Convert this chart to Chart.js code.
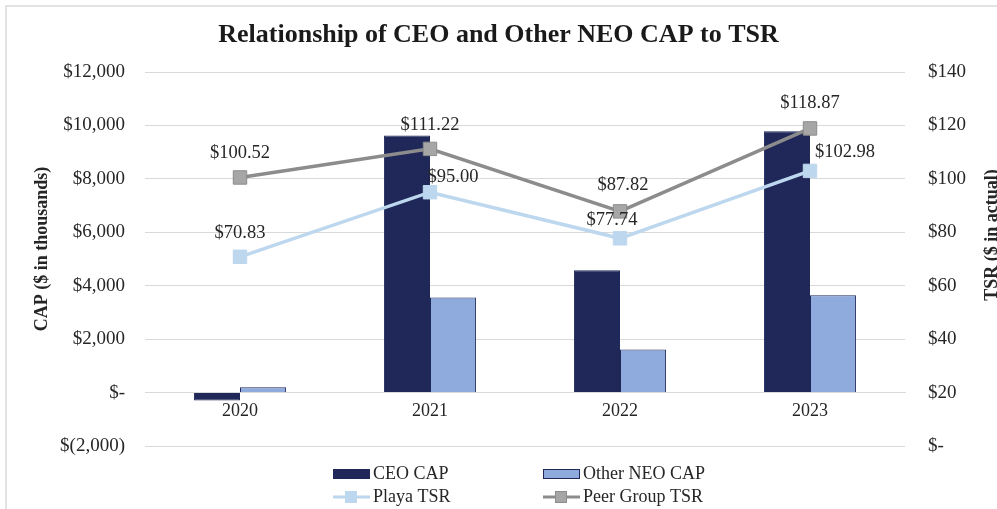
<!DOCTYPE html>
<html>
<head>
<meta charset="utf-8">
<script src="https://cdn.jsdelivr.net/npm/chart.js@4.4.1/dist/chart.umd.min.js"></script>
<style>
  html, body { margin: 0; padding: 0; background: #fff; }
  #wrap { position: relative; width: 997px; height: 509px; overflow: hidden; }
  #frame { position: absolute; left: 5px; top: 5px; width: 1100px; height: 600px;
           border-left: 2px solid #e3e3e3; border-top: 2px solid #e3e3e3; }
  canvas { position: absolute; left: 0; top: 0; }
</style>
</head>
<body>
<div id="wrap">
  <div id="frame"></div>
  <canvas id="chart" width="997" height="509"></canvas>
</div>
<script>
const years = ['2020', '2021', '2022', '2023'];
const ceoCap = [-300, 9620, 4580, 9780];
const otherNeoCap = [200, 3560, 1610, 3640];
const playaTsr = [70.83, 95.00, 77.74, 102.98];
const peerTsr = [100.52, 111.22, 87.82, 118.87];

const capTicks = [-2000, 0, 2000, 4000, 6000, 8000, 10000, 12000];
const tsrTicks = [0, 20, 40, 60, 80, 100, 120, 140];

// label nudges (dx, dy) relative to each point, like the hand placed Excel labels
const playaLabelPos = [[0, -24], [23, -15], [-8, -18], [35, -19]];
const peerLabelPos = [[0, -24], [0, -24], [3, -26], [0, -25]];

const SERIF = '"Liberation Serif", "Times New Roman", serif';
const NAVY = '#1f2859';
const LIGHT_NAVY = '#8faadc';
const PLAYA = '#bdd7ee';
const PEER = '#8c8c8c';
const PEER_FILL = '#a6a6a6';

const fmtCap = v => {
  if (v === 0) return '$-';
  const s = Math.abs(v).toLocaleString('en-US');
  return v < 0 ? '$(' + s + ')' : '$' + s;
};
const fmtTsr = v => v === 0 ? '$-' : '$' + v;

const extras = {
  id: 'extras',
  afterDatasetsDraw(chart) {
    const ctx = chart.ctx;
    ctx.save();
    // data labels on the two TSR lines
    ctx.font = '18.5px ' + SERIF;
    ctx.fillStyle = '#262626';
    ctx.textAlign = 'center';
    ctx.textBaseline = 'middle';
    [[2, playaLabelPos], [3, peerLabelPos]].forEach(([idx, pos]) => {
      const meta = chart.getDatasetMeta(idx);
      const data = chart.data.datasets[idx].data;
      meta.data.forEach((pt, i) => {
        ctx.fillText('$' + data[i].toFixed(2), pt.x + pos[i][0], pt.y + pos[i][1]);
      });
    });
    ctx.restore();
  },
  afterDraw(chart) {
    const ctx = chart.ctx;
    ctx.save();
    // axis titles
    ctx.font = 'bold 18px ' + SERIF;
    ctx.fillStyle = '#262626';
    ctx.textAlign = 'center';
    ctx.textBaseline = 'middle';
    ctx.translate(42, 249);
    ctx.rotate(-Math.PI / 2);
    ctx.fillText('CAP ($ in thousands)', 0, 0);
    ctx.restore();
    ctx.save();
    ctx.font = 'bold 18px ' + SERIF;
    ctx.fillStyle = '#262626';
    ctx.textAlign = 'center';
    ctx.textBaseline = 'middle';
    ctx.translate(992, 235);
    ctx.rotate(-Math.PI / 2);
    ctx.fillText('TSR ($ in actual)', 0, 0);
    ctx.restore();

    // legend, 2 x 2
    const ds = chart.data.datasets;
    const cols = [333, 543];
    const rows = [474, 497];
    ctx.save();
    ctx.font = '18px ' + SERIF;
    ctx.textBaseline = 'middle';
    ctx.textAlign = 'left';
    ds.forEach((d, i) => {
      const x = cols[i % 2];
      const y = rows[Math.floor(i / 2)];
      if (d.type === 'line') {
        ctx.strokeStyle = d.borderColor;
        ctx.lineWidth = 3;
        ctx.beginPath();
        ctx.moveTo(x, y);
        ctx.lineTo(x + 37, y);
        ctx.stroke();
        ctx.fillStyle = d.pointBackgroundColor;
        ctx.strokeStyle = d.pointBorderColor;
        ctx.lineWidth = 1;
        ctx.fillRect(x + 12, y - 6, 12, 12);
        ctx.strokeRect(x + 12.5, y - 5.5, 11, 11);
      } else {
        ctx.fillStyle = d.backgroundColor;
        ctx.fillRect(x, y - 5, 37, 10);
        ctx.strokeStyle = d.borderColor;
        ctx.lineWidth = 1;
        ctx.strokeRect(x + 0.5, y - 4.5, 36, 9);
      }
      ctx.fillStyle = '#262626';
      ctx.fillText(d.label, x + 40, y);
    });
    ctx.restore();
  }
};

new Chart(document.getElementById('chart'), {
  data: {
    labels: years,
    datasets: [
      {
        type: 'bar', label: 'CEO CAP', data: ceoCap, yAxisID: 'y',
        backgroundColor: NAVY, borderColor: NAVY, borderWidth: 1,
        categoryPercentage: 0.485, barPercentage: 1, order: 2
      },
      {
        type: 'bar', label: 'Other NEO CAP', data: otherNeoCap, yAxisID: 'y',
        backgroundColor: LIGHT_NAVY, borderColor: NAVY, borderWidth: 1,
        categoryPercentage: 0.485, barPercentage: 1, order: 2
      },
      {
        type: 'line', label: 'Playa TSR', data: playaTsr, yAxisID: 'y1',
        borderColor: PLAYA, borderWidth: 3.5, pointStyle: 'rect', pointRadius: 9.5,
        pointBackgroundColor: PLAYA, pointBorderColor: PLAYA, pointBorderWidth: 1,
        tension: 0, order: 1
      },
      {
        type: 'line', label: 'Peer Group TSR', data: peerTsr, yAxisID: 'y1',
        borderColor: PEER, borderWidth: 3.5, pointStyle: 'rect', pointRadius: 9.5,
        pointBackgroundColor: PEER_FILL, pointBorderColor: PEER, pointBorderWidth: 1,
        tension: 0, order: 0
      }
    ]
  },
  options: {
    responsive: false,
    animation: false,
    layout: { padding: { top: 0, bottom: 63, left: 0, right: 0 } },
    plugins: {
      legend: { display: false },
      tooltip: { enabled: false },
      title: {
        display: true,
        text: 'Relationship of CEO and Other NEO CAP to TSR',
        color: '#1a1a1a',
        font: { family: SERIF, size: 26, weight: 'bold', lineHeight: 1.2 },
        padding: { top: 20, bottom: 20.8 }
      }
    },
    scales: {
      x: {
        position: { y: 0 },
        grid: { display: false, drawTicks: false },
        border: { display: true, color: '#d9d9d9', width: 1 },
        ticks: { color: '#262626', font: { family: SERIF, size: 18 }, padding: 8 }
      },
      y: {
        position: 'left',
        min: capTicks[0], max: capTicks[capTicks.length - 1],
        afterBuildTicks: s => { s.ticks = capTicks.map(v => ({ value: v })); },
        afterFit: s => { s.width = 145; },
        grid: { color: '#d9d9d9', drawTicks: false },
        border: { display: false },
        ticks: { color: '#262626', font: { family: SERIF, size: 19 }, padding: 20, callback: fmtCap }
      },
      y1: {
        position: 'right',
        min: tsrTicks[0], max: tsrTicks[tsrTicks.length - 1],
        afterBuildTicks: s => { s.ticks = tsrTicks.map(v => ({ value: v })); },
        afterFit: s => { s.width = 92; },
        grid: { display: false, drawTicks: false },
        border: { display: false },
        ticks: { color: '#262626', font: { family: SERIF, size: 19 }, padding: 23, callback: fmtTsr }
      }
    }
  },
  plugins: [extras]
});
</script>
</body>
</html>
